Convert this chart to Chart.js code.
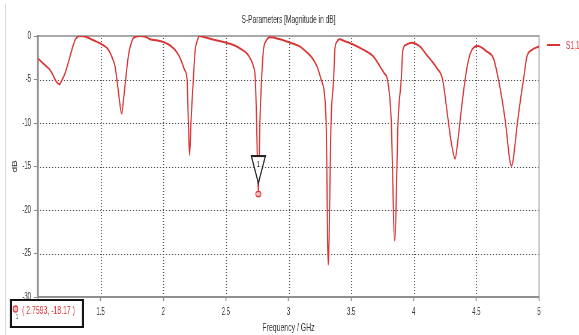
<!DOCTYPE html>
<html><head><meta charset="utf-8">
<script src="https://cdn.jsdelivr.net/npm/chart.js@4"></script>
<style>
html,body{margin:0;padding:0;background:#fff;width:579px;height:335px;overflow:hidden}
#wrap{position:relative;width:579px;height:335px}
canvas{position:absolute;left:0;top:0}
</style></head><body><div id="wrap"><canvas id="c" width="965" height="335" style="width:579px;height:335px"></canvas></div>
<script>
// ---- data ----
const freqGHz = [1.00,1.03,1.06,1.096,1.12,1.136,1.155,1.17,1.19,1.215,1.235,1.255,1.275,1.296,1.315,1.335,1.375,1.42,1.46,1.495,1.53,1.555,1.575,1.595,1.615,1.63,1.645,1.668,1.685,1.70,1.715,1.73,1.745,1.76,1.785,1.81,1.86,1.895,1.95,2.00,2.04,2.08,2.105,2.13,2.15,2.17,2.19,2.20,2.21,2.222,2.24,2.255,2.27,2.28,2.29,2.33,2.38,2.44,2.51,2.57,2.62,2.667,2.695,2.72,2.735,2.745,2.7593,2.772,2.785,2.80,2.82,2.853,2.93,3.00,3.05,3.09,3.14,3.17,3.20,3.23,3.26,3.30,3.317,3.34,3.36,3.37,3.385,3.407,3.45,3.52,3.60,3.68,3.73,3.765,3.79,3.82,3.848,3.875,3.90,3.913,3.94,3.985,4.05,4.105,4.15,4.185,4.23,4.275,4.30,4.33,4.35,4.37,4.41,4.437,4.464,4.51,4.584,4.637,4.676,4.705,4.73,4.78,4.83,4.855,4.876,4.903,4.943,5.00];
const s11dB = [-2.6,-3.0,-3.4,-3.9,-4.5,-5.0,-5.4,-5.55,-5.1,-4.3,-3.4,-2.4,-1.35,-0.46,-0.1,0,-0.05,-0.35,-0.6,-0.84,-1.15,-1.45,-1.9,-2.6,-3.5,-5.0,-6.8,-8.9,-7.0,-5.0,-3.0,-1.6,-0.8,-0.27,-0.05,0,-0.1,-0.38,-0.5,-0.68,-0.95,-1.4,-1.8,-2.4,-3.1,-3.9,-5.0,-9.7,-13.7,-9.7,-5.0,-1.6,-0.6,-0.2,0,-0.15,-0.35,-0.55,-0.8,-1.1,-1.5,-2.0,-2.6,-3.5,-5.0,-9.7,-18.17,-9.7,-5.0,-1.6,-0.6,-0.15,-0.38,-0.7,-0.95,-1.2,-1.8,-2.2,-2.76,-3.6,-5.0,-9.7,-26.3,-9.7,-5.0,-1.6,-0.7,-0.38,-0.6,-1.0,-1.6,-2.4,-3.5,-4.3,-5.0,-9.7,-23.5,-9.7,-5.0,-1.6,-1.0,-0.77,-1.23,-2.2,-3.0,-3.7,-5.0,-9.7,-12.3,-14.1,-12.3,-9.7,-5.0,-2.76,-1.6,-1.15,-1.8,-2.6,-5.0,-7.3,-9.7,-14.9,-9.7,-7.0,-5.0,-2.4,-1.6,-1.2];
const xTickValues = [1,1.5,2,2.5,3,3.5,4,4.5,5];
const yTickValues = [0,-5,-10,-15,-20,-25,-30];
const markerFreq = 2.7593;
const markerDb = -18.17;
const markerLabel = '( 2.7593, -18.17 )';
const markerId = '1';
const chartTitle = 'S-Parameters [Magnitude in dB]';
const seriesName = 'S1,1';
const xTitle = 'Frequency / GHz';
const yTitle = 'dB';

// the picture is horizontally squeezed: canvas drawn wider, shown at 579px
const SX = 0.6;
const X = v => v / SX;
const FONT = '"Liberation Sans",Arial,sans-serif';
const RED = '#d93434';
const points = freqGHz.map((f,i)=>({x:f,y:s11dB[i]}));

const decor = {
  id:'decor',
  beforeDraw(chart){
    const c=chart.ctx; c.save();
    c.fillStyle='#fff'; c.fillRect(0,0,chart.width,chart.height);
    c.fillStyle='#d4d4d4'; c.fillRect(X(5),4,X(1),331);
    c.restore();
  },
  beforeDatasetsDraw(chart){
    const a=chart.chartArea, c=chart.ctx, xs=chart.scales.x, ys=chart.scales.y; c.save();
    // dotted grid, positioned by the scales
    c.fillStyle='#4a4a4a';
    xs.ticks.forEach(t=>{
      if(t.value<=xs.min||t.value>=xs.max) return;
      const sx=Math.round(xs.getPixelForValue(t.value)*SX);
      for(let y=Math.ceil(a.top)+2;y<a.bottom;y+=3) c.fillRect(X(sx),y,X(1),1);
    });
    ys.ticks.forEach(t=>{
      if(t.value<=ys.min||t.value>=ys.max) return;
      const y=Math.round(ys.getPixelForValue(t.value));
      const s0=Math.ceil(a.left*SX)+2, s1=a.right*SX;
      for(let sx=s0;sx<s1;sx+=3) c.fillRect(X(sx),y,X(1),1);
    });
    // frame
    c.fillStyle='#a8a8a8'; c.fillRect(a.left,a.top-1,a.right-a.left,2);
    c.fillStyle='#b0b0b0'; c.fillRect(a.right-X(0.5),a.top-1,X(1.2),a.bottom-a.top+1);
    c.fillStyle='#8f8f8f'; c.fillRect(a.left-X(1),a.top-1,X(1.8),a.bottom-a.top+2);
    c.fillRect(a.left,a.bottom-1,a.right-a.left,2);
    c.restore();
  },
  afterDraw(chart){
    const c=chart.ctx, xs=chart.scales.x, ys=chart.scales.y, a=chart.chartArea; c.save();
    // title
    c.fillStyle='#333'; c.font='11px '+FONT; c.textAlign='center'; c.textBaseline='middle';
    c.fillText(chartTitle,(a.left+a.right)/2,20);
    // legend
    c.strokeStyle=RED; c.lineWidth=2;
    c.beginPath(); c.moveTo(X(547),45); c.lineTo(X(560),45); c.stroke();
    c.fillStyle=RED; c.textAlign='left'; c.font='11px '+FONT; c.fillText(seriesName,X(566),45.5);
    // marker
    const px=xs.getPixelForValue(markerFreq), py=ys.getPixelForValue(markerDb);
    const hw=X(7);
    c.fillStyle='#fff'; c.strokeStyle='#222'; c.lineWidth=X(1.1);
    c.beginPath(); c.moveTo(px-hw,py-38); c.lineTo(px+hw,py-38); c.lineTo(px,py-11); c.closePath();
    c.fill(); c.stroke();
    c.lineWidth=2; c.beginPath(); c.moveTo(px-hw-X(0.5),py-38); c.lineTo(px+hw+X(0.5),py-38); c.stroke();
    c.fillStyle='#222'; c.font='9px '+FONT; c.textAlign='center'; c.textBaseline='middle';
    c.fillText(markerId,px,py-30);
    c.fillStyle='#f6b9b9'; c.strokeStyle=RED; c.lineWidth=1.3;
    c.beginPath(); c.ellipse(px,py,X(2.6),2.8,0,0,Math.PI*2); c.fill(); c.stroke();
    // readout box
    c.fillStyle='#fff'; c.fillRect(X(11),300,X(72),27);
    c.fillStyle='#111';
    c.fillRect(X(10),299,X(74),2); c.fillRect(X(10),326,X(74),2);
    c.fillRect(X(10),299,X(2),29); c.fillRect(X(82),299,X(2),29);
    c.fillStyle='#f6b9b9'; c.strokeStyle=RED; c.lineWidth=1.3;
    c.beginPath(); c.ellipse(X(15.5),309,X(2.3),3,0,0,Math.PI*2); c.fill(); c.stroke();
    c.fillStyle='#333'; c.font='7px '+FONT; c.fillText(markerId,X(17),317.5);
    c.fillStyle=RED; c.font='11.5px '+FONT; c.textAlign='left';
    c.fillText(markerLabel,X(22),310.5);
    c.restore();
  }
};

new Chart(document.getElementById('c'),{
  type:'line',
  data:{datasets:[{label:seriesName,data:points,borderColor:RED,borderWidth:2,pointRadius:0,
    cubicInterpolationMode:'monotone',fill:false}]},
  options:{
    responsive:false, animation:false, devicePixelRatio:1,
    layout:{padding:{left:0,right:965-X(539),top:36,bottom:0}},
    plugins:{legend:{display:false},title:{display:false},tooltip:{enabled:false}},
    scales:{
      x:{type:'linear',min:1,max:5,
        afterBuildTicks(s){s.ticks=xTickValues.map(v=>({value:v}));},
        afterFit(s){s.height=38;},
        border:{display:false},
        grid:{drawOnChartArea:false,tickLength:4,tickColor:'#888',tickWidth:1.6},
        ticks:{font:{family:FONT,size:10},color:'#333',padding:5,maxRotation:0,autoSkip:false,callback:v=>String(v)},
        title:{display:true,text:xTitle,font:{family:FONT,size:11.5},color:'#333',padding:{top:0,bottom:0.5}}
      },
      y:{type:'linear',min:-30,max:0,
        afterBuildTicks(s){s.ticks=yTickValues.map(v=>({value:v}));},
        afterFit(s){s.width=X(38);},
        border:{display:false},
        grid:{drawOnChartArea:false,tickLength:X(4),tickColor:'#888',tickWidth:1},
        ticks:{font:{family:FONT,size:10},color:'#333',padding:X(3),autoSkip:false,callback:v=>String(v)},
        title:{display:true,text:yTitle,font:{family:FONT,size:10},color:'#333',padding:{top:X(15)-6,bottom:0}}
      }
    }
  },
  plugins:[decor]
});
</script></body></html>
